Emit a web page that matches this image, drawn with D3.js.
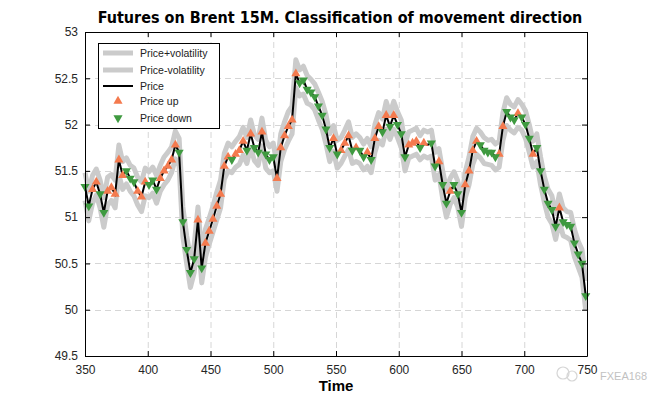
<!DOCTYPE html>
<html><head><meta charset="utf-8">
<script src="https://cdn.jsdelivr.net/npm/d3@7"></script>
<style>body{margin:0;background:#fff}svg{display:block}</style>
</head><body>
<svg id="chart" width="650" height="400"></svg>
<script>
const timeStart = 350, timeStep = 3;
const price = [
 51.33,51.12,51.30,51.38,51.25,51.05,51.28,51.32,51.25,51.62,
 51.45,51.50,51.42,51.38,51.28,51.22,51.38,51.35,51.40,51.30,
 51.42,51.50,51.55,51.62,51.78,51.70,50.95,50.65,50.40,50.55,
 50.97,50.45,50.72,50.85,50.98,51.12,51.25,51.55,51.65,51.62,
 51.68,51.72,51.82,51.72,51.90,51.75,51.70,51.92,51.68,51.62,
 51.65,51.42,51.75,51.88,51.98,52.05,52.55,52.45,52.48,52.38,
 52.35,52.30,52.20,52.10,51.95,51.75,51.85,51.68,51.72,51.80,
 51.88,51.72,51.75,51.72,51.65,51.70,51.62,51.85,51.98,51.92,
 52.10,51.98,52.10,52.00,51.90,51.65,51.78,51.80,51.82,51.75,
 51.80,51.78,51.80,51.55,51.60,51.35,51.15,51.28,51.35,51.25,
 51.05,51.35,51.50,51.72,51.82,51.78,51.72,51.70,51.70,51.65,
 51.68,51.98,52.14,52.08,52.05,52.12,52.08,52.00,51.85,51.68,
 51.75,51.50,51.30,51.15,51.08,50.90,51.10,50.95,50.92,50.90,
 50.72,50.60,50.50,50.15
];
const volatility = [
 0.15,0.16,0.15,0.14,0.15,0.16,0.15,0.14,0.15,0.16,
 0.15,0.14,0.14,0.15,0.15,0.16,0.15,0.14,0.14,0.15,
 0.14,0.15,0.15,0.14,0.15,0.15,0.16,0.15,0.16,0.15,
 0.14,0.16,0.15,0.14,0.14,0.15,0.15,0.14,0.15,0.14,
 0.14,0.15,0.15,0.14,0.15,0.14,0.14,0.15,0.15,0.14,
 0.15,0.14,0.15,0.15,0.16,0.15,0.15,0.14,0.15,0.15,
 0.14,0.14,0.15,0.15,0.16,0.15,0.14,0.15,0.14,0.14,
 0.15,0.14,0.15,0.14,0.14,0.15,0.14,0.15,0.15,0.14,
 0.15,0.14,0.15,0.14,0.15,0.15,0.14,0.14,0.14,0.13,
 0.14,0.14,0.14,0.15,0.14,0.15,0.15,0.14,0.14,0.14,
 0.15,0.14,0.15,0.15,0.14,0.14,0.14,0.13,0.14,0.14,
 0.14,0.15,0.15,0.14,0.14,0.15,0.14,0.15,0.15,0.14,
 0.15,0.15,0.14,0.15,0.15,0.14,0.15,0.15,0.14,0.15,
 0.15,0.14,0.15,0.16
];
// u = price up, d = price down, n = no marker
const direction = [
 "d","d","u","u","d","d","u","u","u","u",
 "u","d","d","d","u","u","u","d","d","d",
 "u","u","u","u","u","d","d","d","d","d",
 "u","d","u","u","u","u","u","u","u","d",
 "u","u","u","d","u","d","d","u","d","d",
 "d","u","u","u","u","u","u","d","d","d",
 "d","d","d","d","d","d","u","d","u","u",
 "u","d","u","d","d","u","d","u","u","d",
 "u","d","u","d","d","d","u","u","u","d",
 "u","n","d","d","u","d","d","u","d","d",
 "d","u","u","u","u","d","d","d","d","d",
 "u","u","d","d","d","u","d","d","d","u",
 "d","d","d","d","d","d","u","d","d","d",
 "d","d","d","d"
];
const xTicks = [350,400,450,500,550,600,650,700,750];
const yTicks = [49.5,50,50.5,51,51.5,52,52.5,53];
const legendLabels = ["Price+volatility","Price-volatility","Price","Price up","Price down"];
const titleText = "Futures on Brent 15M. Classification of movement direction";
const xLabel = "Time";

const data = price.map((p,i)=>({t: timeStart + i*timeStep, p, v: volatility[i], d: direction[i]}));

const svg = d3.select("#chart");
const L=85, R=587, T=32, B=356;
const x = d3.scaleLinear().domain([350,750]).range([L,R]);
const y = d3.scaleLinear().domain([49.5,53]).range([B,T]);

const C_BAND="#cbcbcb", C_UP="#f47a4e", C_DOWN="#3f9a40";

// grid
const grid = svg.append("g").attr("stroke","#d6d6d6").attr("stroke-dasharray","6,4").attr("stroke-width",1);
grid.selectAll(".gx").data(xTicks.slice(1,-1)).join("line")
  .attr("x1",d=>x(d)+0.5).attr("x2",d=>x(d)+0.5).attr("y1",T).attr("y2",B);
grid.selectAll(".gy").data(yTicks.slice(1,-1)).join("line")
  .attr("y1",d=>Math.round(y(d))+0.5).attr("y2",d=>Math.round(y(d))+0.5).attr("x1",L).attr("x2",R);

// bands
const lineUp = d3.line().x(d=>x(d.t)).y(d=>y(d.p+d.v));
const lineDn = d3.line().x(d=>x(d.t)).y(d=>y(d.p-d.v));
const lineP = d3.line().x(d=>x(d.t)).y(d=>y(d.p));
svg.append("path").datum(data).attr("d",lineUp).attr("fill","none").attr("stroke",C_BAND).attr("stroke-width",5).attr("stroke-linejoin","round");
svg.append("path").datum(data).attr("d",lineDn).attr("fill","none").attr("stroke",C_BAND).attr("stroke-width",5).attr("stroke-linejoin","round");
svg.append("path").datum(data).attr("d",lineP).attr("fill","none").attr("stroke","#000").attr("stroke-width",2);

const tri = d3.symbol().type(d3.symbolTriangle).size(36);
svg.append("g").selectAll("path").data(data.filter(d=>d.d==="u")).join("path")
  .attr("d",tri).attr("fill",C_UP)
  .attr("transform",d=>`translate(${x(d.t)},${y(d.p)})`);
svg.append("g").selectAll("path").data(data.filter(d=>d.d==="d")).join("path")
  .attr("d",tri).attr("fill",C_DOWN)
  .attr("transform",d=>`translate(${x(d.t)},${y(d.p)}) rotate(180)`);

// axes
const fontAx = "'Liberation Sans', Arial, sans-serif";
const ax = svg.append("g").attr("transform",`translate(0,${B})`)
  .call(d3.axisBottom(x).tickValues(xTicks).tickSizeInner(-5).tickSizeOuter(0).tickPadding(9));
const ay = svg.append("g").attr("transform",`translate(${L},0)`)
  .call(d3.axisLeft(y).tickValues(yTicks).tickFormat(d3.format("")).tickSizeInner(-5).tickSizeOuter(0).tickPadding(7));
const at = svg.append("g").attr("transform",`translate(0,${T})`)
  .call(d3.axisTop(x).tickValues(xTicks).tickSizeInner(-5).tickSizeOuter(0).tickFormat(""));
const ar = svg.append("g").attr("transform",`translate(${R},0)`)
  .call(d3.axisRight(y).tickValues(yTicks).tickSizeInner(-5).tickSizeOuter(0).tickFormat(""));
[ax,ay,at,ar].forEach(g=>{
  g.selectAll("text").attr("font-family",fontAx).attr("font-size",12).attr("fill","#262626");
  g.select(".domain").attr("stroke","#000");
  g.selectAll(".tick line").attr("stroke","#000");
});

// title and label
svg.append("text").attr("x",340).attr("y",23).attr("text-anchor","middle")
  .attr("font-family","'DejaVu Sans Condensed','DejaVu Sans',sans-serif").attr("font-weight","bold").attr("font-size",16)
  .attr("fill","#000").text(titleText);
svg.append("text").attr("x",(L+R)/2).attr("y",391).attr("text-anchor","middle")
  .attr("font-family",fontAx).attr("font-weight","bold").attr("font-size",15).attr("fill","#000").text(xLabel);

// legend
const lg = svg.append("g");
lg.append("rect").attr("x",98.5).attr("y",43.5).attr("width",121).attr("height",85).attr("fill","#fff").attr("stroke","#000");
const rowsY=[53,70,86,101,118];
legendLabels.forEach((lab,i)=>{
  const yy=rowsY[i];
  if(i<2) lg.append("line").attr("x1",103).attr("x2",133).attr("y1",yy).attr("y2",yy).attr("stroke",C_BAND).attr("stroke-width",5);
  else if(i===2) lg.append("line").attr("x1",103).attr("x2",133).attr("y1",yy).attr("y2",yy).attr("stroke","#000").attr("stroke-width",2);
  else if(i===3) lg.append("path").attr("d",tri).attr("fill",C_UP).attr("transform",`translate(118,${yy})`);
  else lg.append("path").attr("d",tri).attr("fill",C_DOWN).attr("transform",`translate(118,${yy}) rotate(180)`);
  lg.append("text").attr("x",140).attr("y",yy+3.5).attr("font-family",fontAx)
    .attr("font-size",10.5).attr("fill","#222").text(lab);
});

// watermark
const wm = svg.append("g").attr("opacity",0.6);
wm.append("circle").attr("cx",563).attr("cy",373).attr("r",6).attr("fill","none").attr("stroke","#bbb").attr("stroke-width",1.2);
wm.append("circle").attr("cx",572).attr("cy",376).attr("r",5).attr("fill","none").attr("stroke","#bbb").attr("stroke-width",1.2);
wm.append("text").attr("x",600).attr("y",380).attr("font-family",fontAx).attr("font-size",11).attr("fill","#999").text("FXEA168");
</script>
</body></html>
